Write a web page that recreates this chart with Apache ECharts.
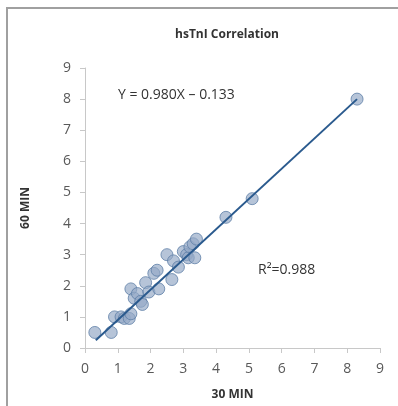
<!DOCTYPE html>
<html>
<head>
<meta charset="utf-8">
<script src="https://cdn.jsdelivr.net/npm/echarts@6/dist/echarts.min.js"></script>
<style>
  html, body { margin: 0; padding: 0; background: #fff; }
  #chart { width: 398px; height: 406px; }
</style>
</head>
<body>
<div id="chart"></div>
<script>
// hsTnI at 30 min vs 60 min
const min30 = [0.3, 0.8, 0.9, 1.1, 1.2, 1.35, 1.4, 1.4, 1.5, 1.6, 1.7, 1.75, 1.85, 1.95, 2.1, 2.2, 2.25, 2.5, 2.65, 2.7, 2.85, 3.0, 3.1, 3.15, 3.2, 3.3, 3.35, 3.4, 4.3, 5.1, 8.3]
const min60 = [0.5, 0.5, 1.0, 1.0, 0.95, 0.95, 1.1, 1.9, 1.6, 1.75, 1.5, 1.4, 2.1, 1.8, 2.4, 2.5, 1.9, 3.0, 2.2, 2.8, 2.6, 3.1, 3.0, 2.9, 3.25, 3.35, 2.9, 3.5, 4.2, 4.8, 8.0]
// fitted line Y = 0.980X - 0.133, ends as drawn
const fitLine = [[0.33, 0.25], [8.3, 8.0]]
const axisTicks = [0, 1, 2, 3, 4, 5, 6, 7, 8, 9]

const points = min30.map((x, i) => [x, min60[i]])

const chart = echarts.init(document.getElementById('chart'))

const labelColor = '#595959'
const axisColor = '#c8c8c8'
const font = '"Open Sans", "Liberation Sans", sans-serif'

chart.setOption({
  animation: false,
  backgroundColor: '#fff',
  title: {
    text: 'hsTnI Correlation',
    left: 222,
    top: 24,
    textAlign: 'center',
    textStyle: { fontFamily: font, fontSize: 12, fontWeight: 'bold', color: '#333' }
  },
  graphic: [
    {
      type: 'rect',
      shape: { x: 7, y: 8, width: 420, height: 420 },
      style: { fill: 'none', stroke: '#a0a0a0', lineWidth: 2 }
    },
    {
      type: 'text',
      left: 118,
      top: 88,
      style: { text: 'Y = 0.980X – 0.133', fontFamily: font, fontSize: 14, fill: '#333' }
    },
    {
      type: 'text',
      left: 258,
      top: 263,
      style: { text: 'R²=0.988', fontFamily: font, fontSize: 14, fill: '#333' }
    }
  ],
  grid: { left: 85, right: 18, top: 68, bottom: 56 },
  xAxis: {
    type: 'value',
    min: 0,
    max: 9,
    interval: 1,
    name: '30 MIN',
    nameLocation: 'middle',
    nameGap: 41,
    nameTextStyle: { fontFamily: font, fontSize: 12, fontWeight: 'bold', color: '#333' },
    axisLine: { lineStyle: { color: axisColor } },
    axisTick: { show: true, length: 5, lineStyle: { color: axisColor } },
    axisLabel: {
      fontFamily: font, fontSize: 14, color: labelColor, margin: 14,
      formatter: v => axisTicks.includes(v) ? String(v) : ''
    },
    splitLine: { show: false }
  },
  yAxis: {
    type: 'value',
    min: 0,
    max: 9,
    interval: 1,
    name: '60 MIN',
    nameLocation: 'middle',
    nameGap: 53,
    nameTextStyle: { fontFamily: font, fontSize: 12, fontWeight: 'bold', color: '#333' },
    axisLine: { show: true, lineStyle: { color: axisColor } },
    axisTick: { show: true, length: 5, lineStyle: { color: axisColor } },
    axisLabel: {
      fontFamily: font, fontSize: 14, color: labelColor, margin: 14,
      formatter: v => axisTicks.includes(v) ? String(v) : ''
    },
    splitLine: { show: false }
  },
  series: [
    {
      type: 'scatter',
      data: points,
      symbolSize: 12,
      itemStyle: { color: 'rgba(148,168,198,0.85)', borderColor: '#5f7fa8', borderWidth: 1 },
      z: 2
    },
    {
      type: 'line',
      data: fitLine,
      symbol: 'none',
      lineStyle: { color: '#2a5a8e', width: 2 },
      z: 3
    }
  ]
})
</script>
</body>
</html>
